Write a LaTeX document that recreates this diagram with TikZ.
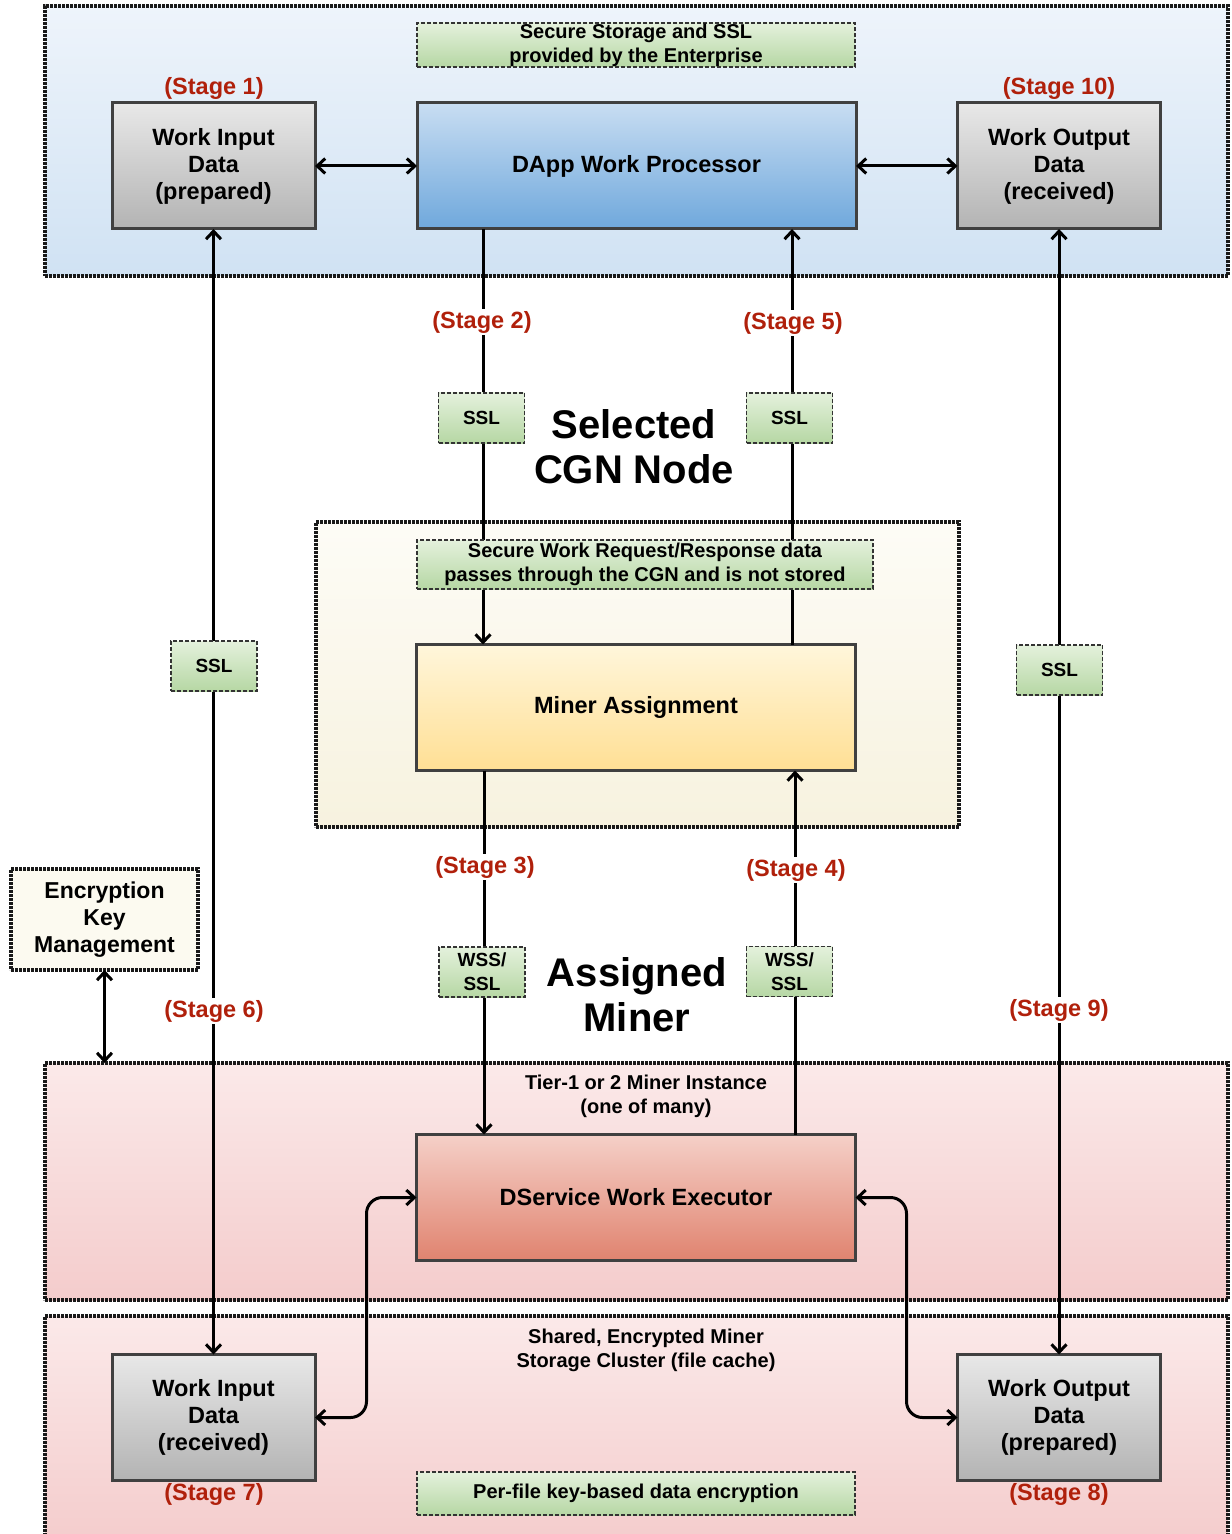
\documentclass[tikz,border=0pt]{standalone}
\usepackage{fontspec}
\setmainfont{Liberation Sans}
\usetikzlibrary{arrows.meta}
\definecolor{zoneblueA}{HTML}{EEF4FB}
\definecolor{zoneblueB}{HTML}{D0E2F3}
\definecolor{zoneyelA}{HTML}{FDFCF6}
\definecolor{zoneyelB}{HTML}{F7F2DF}
\definecolor{zonepinkA}{HTML}{FBE9E9}
\definecolor{zonepinkB}{HTML}{F4CCCC}
\definecolor{grayA}{HTML}{E8E8E8}
\definecolor{grayB}{HTML}{B3B3B3}
\definecolor{blueA}{HTML}{C8DDF2}
\definecolor{blueB}{HTML}{6FA8DC}
\definecolor{yelA}{HTML}{FFF6DB}
\definecolor{yelB}{HTML}{FFDF94}
\definecolor{redA}{HTML}{F5D0C8}
\definecolor{redB}{HTML}{E0836F}
\definecolor{greenA}{HTML}{E4F1DC}
\definecolor{greenB}{HTML}{B6D7A4}
\definecolor{ekmfill}{HTML}{FCFAF0}
\definecolor{boxline}{HTML}{404040}
\definecolor{stagered}{HTML}{B0200B}
\begin{document}
\begin{tikzpicture}[x=0.5pt, y=-0.5pt,
  every node/.style={outer sep=0pt},
  >={Straight Barb[length=4pt,width=7.5pt]},
  zone/.style={draw=black!90, line width=1.7pt, dash pattern=on 1.3pt off 0.7pt, inner sep=0pt},
  databox/.style={draw=boxline, line width=1.5pt, top color=grayA, bottom color=grayB,
    minimum width=101.5pt, minimum height=63pt, align=center, inner sep=0pt,
    font=\bfseries\fontsize{11.75}{13.5}\selectfont},
  procbox/.style={databox, minimum width=219.5pt},
  notebox/.style={draw=black!80, line width=0.6pt, dash pattern=on 2pt off 1pt,
    top color=greenA, bottom color=greenB, align=center, inner sep=0pt,
    font=\bfseries\fontsize{10}{12}\selectfont},
  sslbox/.style={notebox, minimum width=43pt, minimum height=25pt,
    font=\bfseries\fontsize{9.5}{12}\selectfont},
  stagelbl/.style={text=stagered, inner sep=1pt, font=\bfseries\fontsize{11.75}{13.5}\selectfont},
  stageon/.style={stagelbl, fill=white},
  zonetxt/.style={align=center, font=\bfseries\fontsize{10}{12}\selectfont},
  bigtxt/.style={align=center, font=\bfseries\fontsize{20}{22.5}\selectfont},
  conn/.style={line width=1.5pt, black}]
\useasboundingbox (0,0) rectangle (1231,1534);

\node[zone, top color=zoneblueA, bottom color=zoneblueB, minimum width=591.5pt, minimum height=135pt] (entzone) at (636.5,141) {};
\node[zone, top color=zoneyelA, bottom color=zoneyelB, minimum width=321.5pt, minimum height=152.5pt] (cgnzone) at (637.5,674.5) {};
\node[zone, top color=zonepinkA, bottom color=zonepinkB, minimum width=591.5pt, minimum height=118.5pt] (minerzone) at (636.5,1181.5) {};
\node[zone, top color=zonepinkA, bottom color=zonepinkB, minimum width=591.5pt, minimum height=114.5pt] (storezone) at (636.5,1430.5) {};

\node[notebox, minimum width=219pt, minimum height=22pt] (entnote) at (636,45) {Secure Storage and SSL\\provided by the Enterprise};
\node[notebox, minimum width=219pt, minimum height=21.5pt] (storenote) at (636,1493.5) {Per-file key-based data encryption};
\node[zonetxt] (minertxt) at (646,1096) {Tier-1 or 2 Miner Instance\\(one of many)};
\node[zonetxt] (storetxt) at (646,1350) {Shared, Encrypted Miner\\Storage Cluster (file cache)};

\node[databox] (wip) at (213.5,166) {Work Input\\Data\\(prepared)};
\node[procbox, top color=blueA, bottom color=blueB] (dapp) at (636.5,166) {DApp Work Processor};
\node[databox] (wor) at (1059,166) {Work Output\\Data\\(received)};
\node[procbox, top color=yelA, bottom color=yelB] (miner) at (636,707.5) {Miner Assignment};
\node[procbox, top color=redA, bottom color=redB] (dsvc) at (636,1197.5) {DService Work Executor};
\node[databox] (wir) at (213.5,1417.5) {Work Input\\Data\\(received)};
\node[databox] (wop) at (1059,1417.5) {Work Output\\Data\\(prepared)};

\node[zone, fill=ekmfill, minimum width=93.5pt, minimum height=50.5pt, align=center,
  font=\bfseries\fontsize{11.5}{13.5}\selectfont] (ekm) at (104.5,919.5) {Encryption\\Key\\Management};

\coordinate (c2) at (483,0);
\coordinate (c5) at (792,0);
\coordinate (c3) at (484,0);
\coordinate (c4) at (795,0);

\draw[conn, <->] (wip.east) -- (dapp.west);
\draw[conn, <->] (dapp.east) -- (wor.west);
\draw[conn, <->] (wip.south) -- (wir.north);
\draw[conn, <->] (wor.south) -- (wop.north);
\draw[conn, ->] (dapp.south -| c2) -- (miner.north -| c2);
\draw[conn, ->] (miner.north -| c5) -- (dapp.south -| c5);
\draw[conn, ->] (miner.south -| c3) -- (dsvc.north -| c3);
\draw[conn, ->] (dsvc.north -| c4) -- (miner.south -| c4);
\draw[conn, <->, rounded corners=8pt] (dsvc.west) -- ++(-50,0) |- (wir.east);
\draw[conn, <->, rounded corners=8pt] (dsvc.east) -- ++(51,0) |- (wop.west);
\draw[conn, <->] (ekm.south) -- (ekm.south |- minerzone.north);

\node[notebox, minimum width=228pt, minimum height=24.5pt] (cgnnote) at (645,564.5) {Secure Work Request/Response data\\passes through the CGN and is not stored};

\node[sslbox] (ssl2) at (481.5,418) {SSL};
\node[sslbox] (ssl5) at (789.5,418) {SSL};
\node[sslbox] (ssl6) at (214,666) {SSL};
\node[sslbox] (ssl9) at (1059.5,670) {SSL};
\node[sslbox] (wss3) at (482,972) {WSS/\\SSL};
\node[sslbox] (wss4) at (789.5,971.5) {WSS/\\SSL};

\node[stagelbl] (st1) at (214,88) {(Stage 1)};
\node[stagelbl] (st10) at (1059,88) {(Stage 10)};
\node[stageon] (st2) at (482,322) {(Stage 2)};
\node[stageon] (st5) at (793,323) {(Stage 5)};
\node[stageon] (st3) at (485,867) {(Stage 3)};
\node[stageon] (st4) at (796,870) {(Stage 4)};
\node[stageon] (st6) at (214,1011) {(Stage 6)};
\node[stageon] (st9) at (1059,1010) {(Stage 9)};
\node[stagelbl] (st7) at (214,1494) {(Stage 7)};
\node[stagelbl] (st8) at (1059,1494) {(Stage 8)};

\node[bigtxt] (cgnlbl) at (634,447) {Selected\\CGN Node};
\node[bigtxt] (minerlbl) at (637,995) {Assigned\\Miner};
\end{tikzpicture}
\end{document}
